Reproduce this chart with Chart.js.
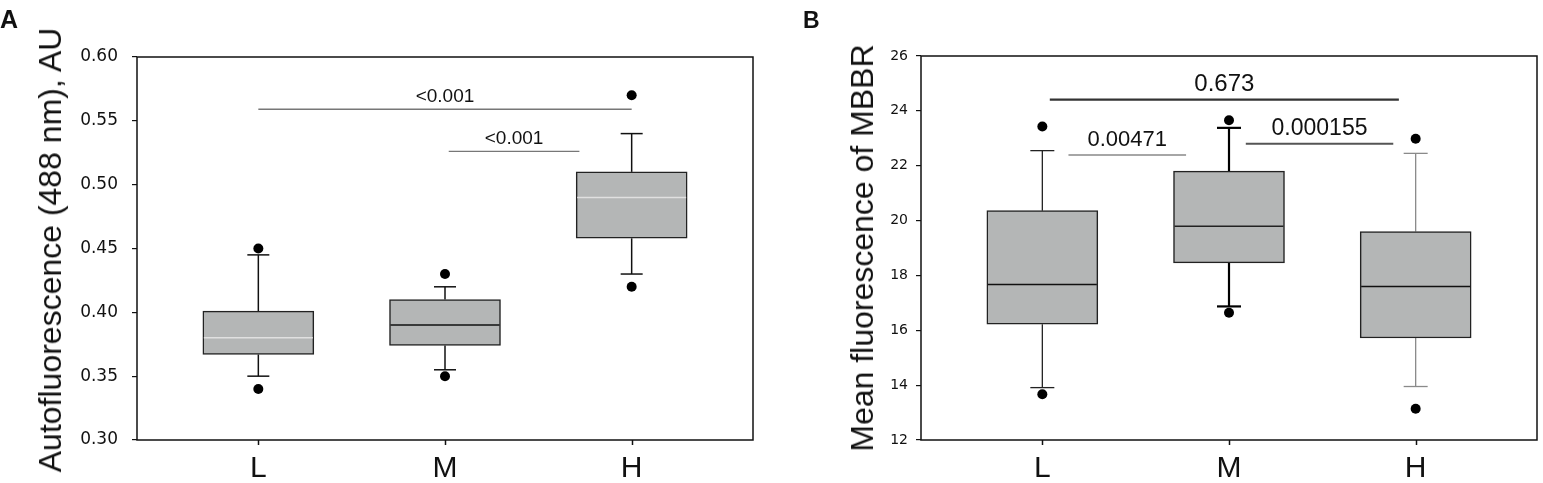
<!DOCTYPE html>
<html lang="en">
<head>
<meta charset="utf-8">
<title>Autofluorescence / MBBR</title>
<script src="https://cdn.jsdelivr.net/npm/chart.js@4.4.1/dist/chart.umd.min.js"></script>
<style>
  body { margin:0; background:#fff; font-family:"Liberation Sans", Arial, sans-serif; color:#111; }
  #lienzo { position:relative; width:1543px; height:483px; overflow:hidden; }
  .panel { position:absolute; top:0; height:483px; }
  #panelA { left:0; width:770px; }
  #panelB { left:780px; width:763px; }
  .letra { position:absolute; font-weight:bold; line-height:1; }
  .titulo { position:absolute; font-size:32px; line-height:32px; white-space:nowrap;
            transform:translate(-50%,-50%) rotate(-90deg); }
</style>
</head>
<body>
<div id="lienzo">
  <div class="panel" id="panelA"><canvas id="graficaA"></canvas></div>
  <div class="panel" id="panelB"><canvas id="graficaB"></canvas></div>
  <div class="letra" style="left:0;top:7px;font-size:25px">A</div>
  <div class="letra" style="left:803px;top:9px;font-size:23px">B</div>
  <div class="titulo" style="left:50px;top:250px">Autofluorescence (488 nm), AU</div>
  <div class="titulo" style="left:862px;top:248px">Mean fluorescence of MBBR</div>
</div>
<script>
"use strict";

const grupos = ["L", "M", "H"];
const posiciones = [1, 2, 3];

// panel A - autofluorescencia (488 nm)
const aBigoteBajo = [0.350, 0.355, 0.430];
const aQ1 = [0.367, 0.374, 0.458];
const aMediana = [0.380, 0.390, 0.490];
const aQ3 = [0.401, 0.410, 0.510];
const aBigoteAlto = [0.445, 0.420, 0.540];
const aAtipicos = [[0.340, 0.450], [0.350, 0.430], [0.420, 0.570]];
const aTicks = [0.30, 0.35, 0.40, 0.45, 0.50, 0.55, 0.60];
// comparaciones (desde / hasta en unidades del eje x)
const aCompDesde = [1.00, 2.02];
const aCompHasta = [3.00, 2.72];
const aCompNivel = [0.559, 0.526];
const aCompTexto = ["<0.001", "<0.001"];

// panel B - fluorescencia media de MBBR
const bBigoteBajo = [13.91, 16.87, 13.95];
const bQ1 = [16.22, 18.46, 15.72];
const bMediana = [17.67, 19.79, 17.60];
const bQ3 = [20.36, 21.80, 19.60];
const bBigoteAlto = [22.55, 23.38, 22.45];
const bAtipicos = [[13.67, 23.43], [16.64, 23.66], [13.14, 22.98]];
const bTicks = [12, 14, 16, 18, 20, 22, 24, 26];
const bCompDesde = [1.04, 1.14, 2.09];
const bCompHasta = [2.91, 1.77, 2.88];
const bCompNivel = [24.41, 22.39, 22.80];
const bCompTexto = ["0.673", "0.00471", "0.000155"];

const FUENTE = '"Liberation Sans", Arial, sans-serif';
Chart.defaults.font.family = FUENTE;
Chart.defaults.color = "#111";

function linea(ctx, x1, y1, x2, y2) {
    ctx.beginPath();
    ctx.moveTo(x1, y1);
    ctx.lineTo(x2, y2);
    ctx.stroke();
}

// bigotes, medianas, marco y comparaciones, todo con las escalas del grafico
const cajas = {
    id: "cajas",
    beforeDatasetsDraw(chart, args, o) {
        const { ctx, scales: { x, y } } = chart;
        ctx.save();
        posiciones.forEach((p, i) => {
            const cx = x.getPixelForValue(p);
            const alto = y.getPixelForValue(o.alto[i]);
            const bajo = y.getPixelForValue(o.bajo[i]);
            ctx.strokeStyle = o.colorBigote[i];
            ctx.lineWidth = o.anchoBigote[i];
            linea(ctx, cx, y.getPixelForValue(o.q3[i]), cx, alto);
            linea(ctx, cx, y.getPixelForValue(o.q1[i]), cx, bajo);
            linea(ctx, cx - o.tapa, alto, cx + o.tapa, alto);
            linea(ctx, cx - o.tapa, bajo, cx + o.tapa, bajo);
        });
        ctx.restore();
    },
    afterDatasetsDraw(chart, args, o) {
        const { ctx, chartArea: a, scales: { x, y } } = chart;
        const barras = chart.getDatasetMeta(0).data;
        ctx.save();
        o.mediana.forEach((m, i) => {
            const b = barras[i];
            const py = y.getPixelForValue(m);
            ctx.strokeStyle = o.colorMediana[i];
            ctx.lineWidth = 1.5;
            linea(ctx, b.x - b.width / 2 + 1, py, b.x + b.width / 2 - 1, py);
        });
        // marco completo y marcas del eje x
        ctx.strokeStyle = "#111";
        ctx.lineWidth = 1.5;
        ctx.strokeRect(a.left, a.top, a.right - a.left, a.bottom - a.top);
        posiciones.forEach(p => {
            const px = Math.round(x.getPixelForValue(p)) + 0.5;
            linea(ctx, px, a.bottom, px, a.bottom + 5);
        });
        // lineas de comparacion y valores p
        ctx.textAlign = "center";
        ctx.textBaseline = "alphabetic";
        o.desde.forEach((d, i) => {
            const x1 = x.getPixelForValue(d);
            const x2 = x.getPixelForValue(o.hasta[i]);
            const py = y.getPixelForValue(o.nivel[i]);
            ctx.strokeStyle = o.colorComp[i];
            ctx.lineWidth = o.anchoComp[i];
            linea(ctx, x1, py, x2, py);
            ctx.fillStyle = "#111";
            ctx.font = o.tamTexto[i] + "px " + FUENTE;
            ctx.fillText(o.texto[i], (x1 + x2) / 2, py - o.separacion);
        });
        ctx.restore();
    }
};

function crearPanel(id, d) {
    return new Chart(document.getElementById(id), {
        type: "bar",
        data: {
            datasets: [
                {
                    type: "bar",
                    data: posiciones.map((p, i) => ({ x: p, y: [d.q1[i], d.q3[i]] })),
                    backgroundColor: "#b4b6b6",
                    borderColor: "#222",
                    borderWidth: 1.5,
                    borderSkipped: false,
                    barThickness: 111,
                    order: 2
                },
                {
                    type: "scatter",
                    data: d.atipicos.flatMap((par, i) => par.map(v => ({ x: posiciones[i], y: v }))),
                    pointRadius: 5,
                    pointBackgroundColor: "#000",
                    pointBorderWidth: 0,
                    order: 1
                }
            ]
        },
        options: {
            responsive: true,
            maintainAspectRatio: false,
            animation: false,
            layout: { padding: d.margen },
            plugins: {
                legend: { display: false },
                tooltip: { enabled: false },
                cajas: {
                    bajo: d.bajo, q1: d.q1, mediana: d.mediana, q3: d.q3, alto: d.alto,
                    desde: d.desde, hasta: d.hasta, nivel: d.nivel, texto: d.texto,
                    ...d.estilo
                }
            },
            scales: {
                x: {
                    type: "linear",
                    min: 0.35,
                    max: 3.65,
                    offset: false,
                    afterBuildTicks: s => { s.ticks = posiciones.map(v => ({ value: v })); },
                    afterFit: s => { s.height = 43; },
                    border: { display: false },
                    grid: { display: false },
                    ticks: {
                        autoSkip: false, maxRotation: 0, padding: 3,
                        font: { size: 30 }, color: "#111",
                        callback: v => grupos[posiciones.indexOf(v)]
                    }
                },
                y: {
                    min: d.ticks[0],
                    max: d.ticks[d.ticks.length - 1],
                    afterBuildTicks: s => { s.ticks = d.ticks.map(v => ({ value: v })); },
                    afterFit: s => { s.width = d.anchoEje; },
                    border: { display: false },
                    grid: { drawOnChartArea: false, tickLength: 5, color: "#111", lineWidth: 1.2 },
                    ticks: {
                        padding: d.sepTicks,
                        font: { family: '"DejaVu Sans", sans-serif', size: d.tamTicks },
                        color: "#111",
                        callback: v => Number(v).toFixed(d.decimales)
                    }
                }
            }
        },
        plugins: [cajas]
    });
}

crearPanel("graficaA", {
    bajo: aBigoteBajo, q1: aQ1, mediana: aMediana, q3: aQ3, alto: aBigoteAlto,
    atipicos: aAtipicos, ticks: aTicks, decimales: 2,
    desde: aCompDesde, hasta: aCompHasta, nivel: aCompNivel, texto: aCompTexto,
    margen: { left: 0, top: 57, right: 17, bottom: 0 },
    anchoEje: 137, sepTicks: 14, tamTicks: 17,
    estilo: {
        tapa: 11,
        colorBigote: ["#111", "#111", "#111"],
        anchoBigote: [1.5, 1.5, 1.5],
        colorMediana: ["#e0e0e0", "#111", "#e0e0e0"],
        colorComp: ["#777", "#777"],
        anchoComp: [1.5, 1.2],
        tamTexto: [19, 19],
        separacion: 7
    }
});

crearPanel("graficaB", {
    bajo: bBigoteBajo, q1: bQ1, mediana: bMediana, q3: bQ3, alto: bBigoteAlto,
    atipicos: bAtipicos, ticks: bTicks, decimales: 0,
    desde: bCompDesde, hasta: bCompHasta, nivel: bCompNivel, texto: bCompTexto,
    margen: { left: 0, top: 56, right: 6, bottom: 0 },
    anchoEje: 141, sepTicks: 8, tamTicks: 14,
    estilo: {
        tapa: 12,
        colorBigote: ["#222", "#000", "#8a8a8a"],
        anchoBigote: [1.3, 2.2, 1.3],
        colorMediana: ["#111", "#222", "#111"],
        colorComp: ["#333", "#888", "#555"],
        anchoComp: [2.2, 1.4, 2.2],
        tamTexto: [24, 22, 23],
        separacion: 9
    }
});
</script>
</body>
</html>
